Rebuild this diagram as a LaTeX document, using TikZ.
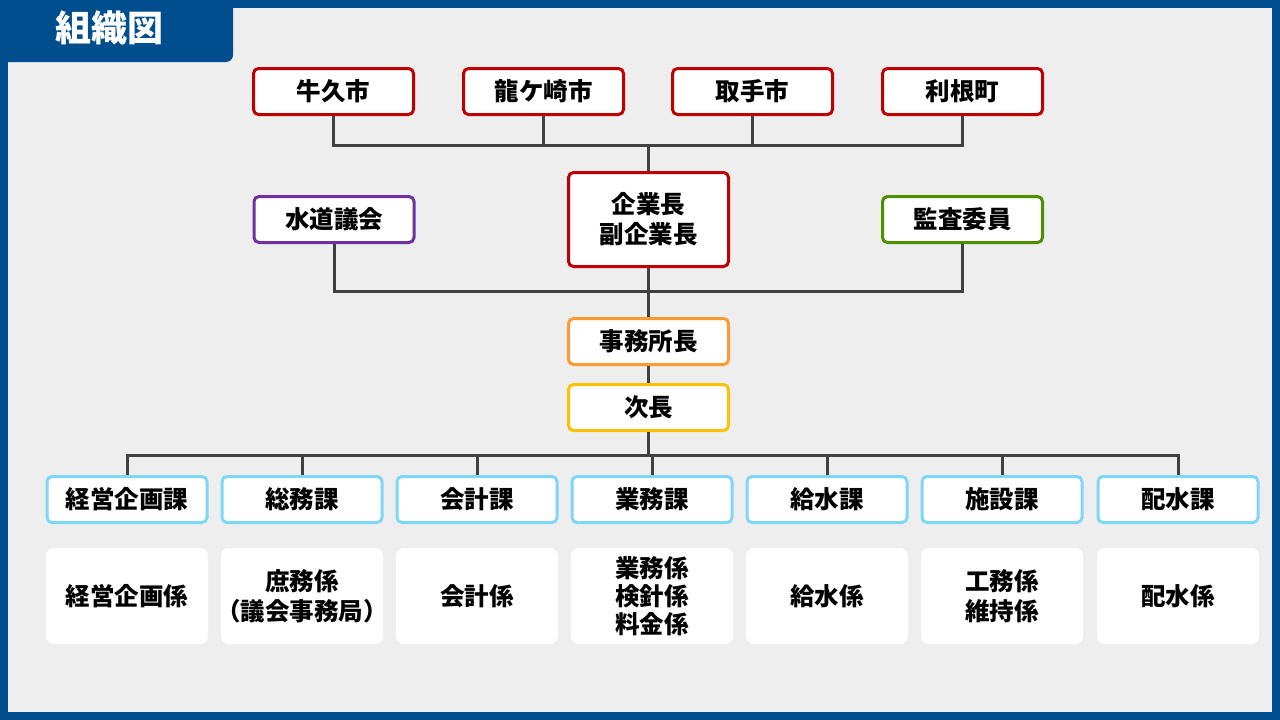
\documentclass[tikz,border=0pt]{standalone}
\usepackage{fontspec}
\setmainfont{Noto Sans CJK JP}
\usepackage{tikz}
\usetikzlibrary{calc}

\definecolor{frameblue}{RGB}{0,78,142}
\definecolor{paper}{RGB}{238,238,238}
\definecolor{wire}{RGB}{64,64,64}
\definecolor{cityred}{RGB}{192,0,0}
\definecolor{assemblypurple}{RGB}{112,48,160}
\definecolor{auditgreen}{RGB}{78,143,0}
\definecolor{chieforange}{RGB}{255,153,51}
\definecolor{deputyyellow}{RGB}{255,192,0}
\definecolor{sectionblue}{RGB}{125,215,247}

\tikzset{
  post/.style={draw=#1, fill=white, line width=3pt, rounded corners=5pt,
    minimum width=160pt, minimum height=46pt, inner sep=0pt, align=center,
    font=\fontsize{24.5}{30}\selectfont\bfseries},
  unit/.style={fill=white, rounded corners=8pt, minimum width=162pt,
    minimum height=96pt, inner sep=0pt, align=center,
    font=\fontsize{24.5}{28}\selectfont\bfseries},
  wire/.style={draw=wire, line width=3pt}
}

\begin{document}
\begin{tikzpicture}[x=1pt,y=-1pt]
    \useasboundingbox (0,0) rectangle (1280,720);
    \fill[frameblue] (0,0) rectangle (1280,720);
    \fill[paper] (8,8) rectangle (1272,712);
    \fill[frameblue] (0,0) -- (233,0) [rounded corners=7pt] -- (233,62) -- (0,62) -- cycle;
    \node[text=white, font=\fontsize{36}{40}\selectfont\bfseries] (title) at (109,28) {組織図};

    % member towns
    \node[post=cityred] (ushiku) at (333.5,91.5) {牛久市};
    \node[post=cityred] (ryugasaki) at (543.5,91.5) {龍ケ崎市};
    \node[post=cityred] (toride) at (752.5,91.5) {取手市};
    \node[post=cityred] (tone) at (962.5,91.5) {利根町};

    % executives
    \node[post=cityred, minimum height=94pt] (kigyo) at (648.5,219.5) {企業長\\副企業長};
    \node[post=assemblypurple] (gikai) at (334,219.5) {水道議会};
    \node[post=auditgreen] (kansa) at (962.5,219.5) {監査委員};
    \node[post=chieforange] (jimusho) at (648.5,341.5) {事務所長};
    \node[post=deputyyellow] (jicho) at (648.5,407.5) {次長};

    \coordinate (topbus) at (648.5,145);
    \coordinate (midbus) at (648.5,291);
    \coordinate (lowbus) at (648.5,455);

    \foreach \city in {ushiku,ryugasaki,toride,tone}
        \draw[wire] (\city.south) |- (topbus);
    \draw[wire] (topbus) -- (kigyo.north);
    \draw[wire] (gikai.south) |- (midbus);
    \draw[wire] (kansa.south) |- (midbus);
    \draw[wire] (kigyo.south) -- (jimusho.north);
    \draw[wire] (jimusho.south) -- (jicho.north);
    \draw[wire] (jicho.south) -- (lowbus);

    % sections and their units
    \foreach \name/\x/\sec/\sub in {
        keiei/127/{経営企画課}/{経営企画係},
        somu/302/{総務課}/{庶務係\\[2pt]\makebox[140pt]{（議会事務局）}},
        kaikei/477/{会計課}/{会計係},
        gyomu/652/{業務課}/{業務係\\検針係\\料金係},
        kyusui/827/{給水課}/{給水係},
        shisetsu/1002/{施設課}/{工務係\\[2pt]維持係},
        haisui/1178/{配水課}/{配水係}} {
        \node[post=sectionblue] (\name) at (\x,499.5) {\sec};
        \node[unit] (\name-unit) at (\x,596) {\sub};
        \draw[wire] (\name.north) |- (lowbus);
    }
\end{tikzpicture}
\end{document}
